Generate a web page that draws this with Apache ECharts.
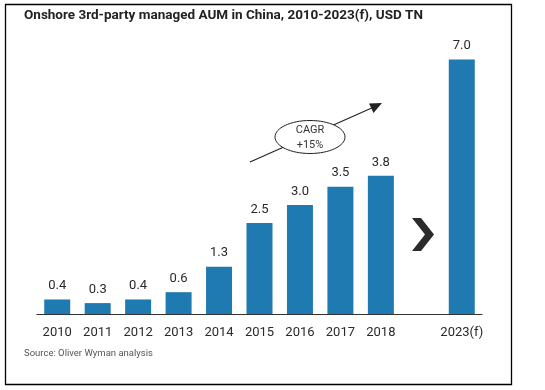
<!DOCTYPE html>
<html>
<head>
<meta charset="utf-8">
<script src="https://cdn.jsdelivr.net/npm/echarts@6/dist/echarts.min.js"></script>
<style>
html,body{margin:0;padding:0;background:#fff;}
#chart{width:545px;height:390px;}
</style>
</head>
<body>
<div id="chart"></div>
<script>
const titleText = 'Onshore 3rd-party managed AUM in China, 2010-2023(f), USD TN';
const sourceText = 'Source: Oliver Wyman analysis';
const categories = ['2010','2011','2012','2013','2014','2015','2016','2017','2018','','2023(f)'];
const values = [0.4, 0.3, 0.4, 0.6, 1.3, 2.5, 3.0, 3.5, 3.8, null, 7.0];
const cagrLines = ['CAGR', '+15%'];

const chart = echarts.init(document.getElementById('chart'), null, {renderer: 'canvas'});
const barColor = '#1f7ab2';

chart.setOption({
  animation: false,
  backgroundColor: '#ffffff',
  grid: {left: 37, right: 63, top: 23, bottom: 76},
  xAxis: {
    type: 'category',
    data: categories,
    axisLine: {lineStyle: {color: '#333', width: 1.2}},
    axisTick: {show: false},
    axisLabel: {color: '#2a2a2a', fontFamily: 'Roboto', fontSize: 13, margin: 12, interval: 0}
  },
  yAxis: {
    type: 'value', min: 0, max: 8, interval: 1,
    show: false, splitLine: {show: false}
  },
  series: [{
    type: 'bar',
    data: values,
    barWidth: 26,
    itemStyle: {color: barColor},
    label: {
      show: true, position: 'top', distance: 7,
      color: '#2a2a2a', fontFamily: 'Roboto', fontSize: 13,
      formatter: p => p.value == null ? '' : Number(p.value).toFixed(1)
    }
  }],
  graphic: [
    {type: 'rect', shape: {x: 5.5, y: 4.5, width: 506, height: 380}, style: {fill: 'none', stroke: '#000', lineWidth: 1.3}, silent: true},
    {type: 'text', left: 24, top: 9, style: {text: titleText, fill: '#222', font: 'bold 13.5px "Liberation Sans Narrow", "Roboto"'}},
    {type: 'text', left: 24, top: 349, style: {text: sourceText, fill: '#555', font: '9.5px Roboto'}},
    // arrow line
    {type: 'line', shape: {x1: 250, y1: 162, x2: 374, y2: 107}, style: {stroke: '#222', lineWidth: 1.1}},
    {type: 'polygon', shape: {points: [[382, 103], [369, 103.5], [373.5, 113]]}, style: {fill: '#222'}},
    // ellipse
    {type: 'ellipse', shape: {cx: 310, cy: 137, rx: 35, ry: 16.5}, style: {fill: '#fff', stroke: '#222', lineWidth: 1}},
    {type: 'text', x: 310, y: 130, style: {text: cagrLines[0], fill: '#333', font: '11px Roboto', align: 'center', verticalAlign: 'middle'}},
    {type: 'text', x: 310, y: 145, style: {text: cagrLines[1], fill: '#333', font: '11px Roboto', align: 'center', verticalAlign: 'middle'}},
    // chevron
    {type: 'polygon', shape: {points: [[412, 218], [421, 218], [434, 234.5], [421, 251], [412, 251], [425, 234.5]]}, style: {fill: '#2b2b2b'}}
  ]
});
</script>
</body>
</html>
